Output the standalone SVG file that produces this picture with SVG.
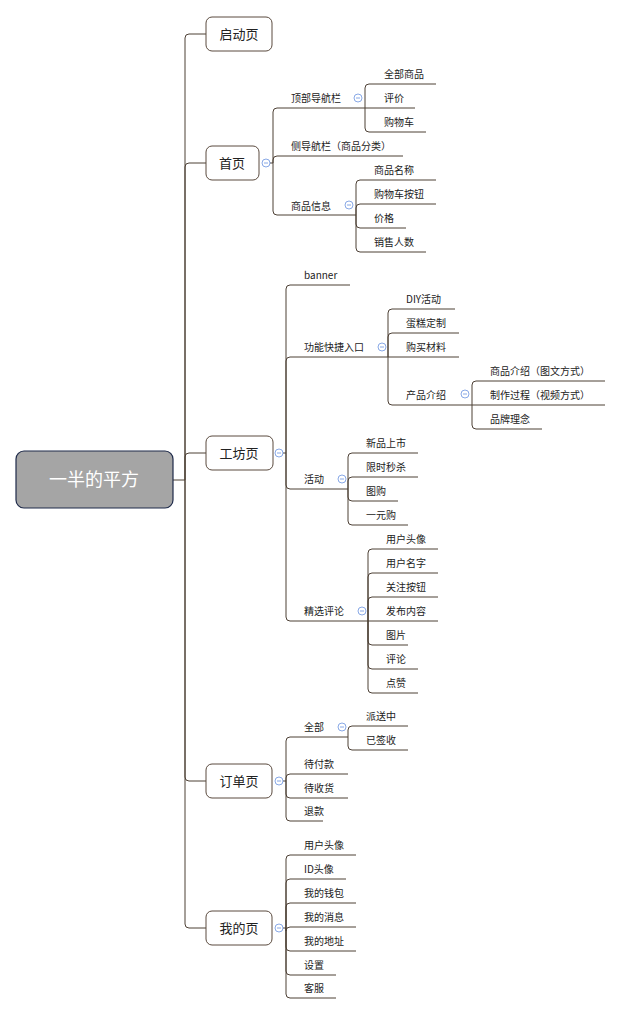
<svg xmlns="http://www.w3.org/2000/svg" width="618" height="1015" viewBox="0 0 618 1015">
<style>
text{font-family:"Noto Sans CJK SC","Liberation Sans",sans-serif;fill:#222}
.l{font-size:10px}
.n{font-size:13px;text-anchor:middle}
.node rect{fill:#fff;stroke:#5a4a3e;stroke-width:1}
.c path{fill:none;stroke:#4d4035;stroke-width:1}
.col{fill:#fff;stroke:#6b93e0;stroke-width:0.8}
.col line{stroke:#6b93e0}
</style>
<g id="connectors" class="c">
<path d="M173,480H185"/>
<path d="M185,480V38Q185,34 189,34H206"/>
<path d="M185,480V167Q185,163 189,163H206"/>
<path d="M185,480V457Q185,453 189,453H206"/>
<path d="M185,480V777Q185,781 189,781H206"/>
<path d="M185,480V924Q185,928 189,928H206"/>
<path d="M270,163H273"/>
<path d="M273,163V112Q273,108 277,108H365"/>
<path d="M273,163V160Q273,156 277,156H403"/>
<path d="M273,163V211Q273,215 277,215H356"/>
<path d="M365,108V88Q365,84 369,84H436"/>
<path d="M365,108H415"/>
<path d="M365,108V128Q365,132 369,132H426"/>
<path d="M356,215V184Q356,180 360,180H436"/>
<path d="M356,215V208Q356,204 360,204H436"/>
<path d="M356,215V224Q356,228 360,228H406"/>
<path d="M356,215V248Q356,252 360,252H426"/>
<path d="M283,453H286"/>
<path d="M286,453V289Q286,285 290,285H350"/>
<path d="M286,453V361Q286,357 290,357H388"/>
<path d="M286,453V485Q286,489 290,489H348"/>
<path d="M286,453V617Q286,621 290,621H368"/>
<path d="M388,357V313Q388,309 392,309H455"/>
<path d="M388,357V337Q388,333 392,333H459"/>
<path d="M388,357H459"/>
<path d="M388,357V401Q388,405 392,405H472"/>
<path d="M472,405V385Q472,381 476,381H605"/>
<path d="M472,405H605"/>
<path d="M472,405V425Q472,429 476,429H542"/>
<path d="M348,489V457Q348,453 352,453H418"/>
<path d="M348,489V481Q348,477 352,477H418"/>
<path d="M348,489V497Q348,501 352,501H398"/>
<path d="M348,489V521Q348,525 352,525H408"/>
<path d="M368,621V553Q368,549 372,549H438"/>
<path d="M368,621V577Q368,573 372,573H438"/>
<path d="M368,621V601Q368,597 372,597H438"/>
<path d="M368,621H438"/>
<path d="M368,621V641Q368,645 372,645H408"/>
<path d="M368,621V665Q368,669 372,669H418"/>
<path d="M368,621V689Q368,693 372,693H418"/>
<path d="M283,781H286"/>
<path d="M286,781V741Q286,737 290,737H348"/>
<path d="M286,781V778Q286,774 290,774H348"/>
<path d="M286,781V794Q286,798 290,798H348"/>
<path d="M286,781V817Q286,821 290,821H323"/>
<path d="M348,737V730Q348,726 352,726H408"/>
<path d="M348,737V746Q348,750 352,750H408"/>
<path d="M283,928H286"/>
<path d="M286,928V859Q286,855 290,855H356"/>
<path d="M286,928V883Q286,879 290,879H346"/>
<path d="M286,928V907Q286,903 290,903H356"/>
<path d="M286,928V931Q286,927 290,927H356"/>
<path d="M286,928V947Q286,951 290,951H356"/>
<path d="M286,928V971Q286,975 290,975H336"/>
<path d="M286,928V994Q286,998 290,998H336"/>
</g>
<g id="root"><rect x="16" y="451" width="157" height="57" rx="8" fill="#a5a5a5" stroke="#1e2a4a" stroke-width="1.2"/><text x="94" y="486" font-size="18" text-anchor="middle" style="fill:#fff">一半的平方</text></g>
<g id="n-qidong" class="node"><rect x="206" y="17" width="66" height="34" rx="6"/><text class="n" x="239" y="39">启动页</text></g>
<g id="n-shouye" class="node"><rect x="206" y="146" width="53" height="34" rx="6"/><text class="n" x="232" y="168">首页</text></g>
<g id="n-gongfang" class="node"><rect x="206" y="436" width="67" height="34" rx="6"/><text class="n" x="239" y="458">工坊页</text></g>
<g id="n-dingdan" class="node"><rect x="206" y="764" width="66" height="34" rx="6"/><text class="n" x="239" y="786">订单页</text></g>
<g id="n-wode" class="node"><rect x="206" y="911" width="66" height="34" rx="6"/><text class="n" x="239" y="933">我的页</text></g>
<g id="collapse">
<g class="col"><circle cx="266" cy="163" r="4"/><line x1="264" y1="163" x2="268" y2="163"/></g>
<g class="col"><circle cx="279" cy="453" r="4"/><line x1="277" y1="453" x2="281" y2="453"/></g>
<g class="col"><circle cx="279" cy="781" r="4"/><line x1="277" y1="781" x2="281" y2="781"/></g>
<g class="col"><circle cx="279" cy="928" r="4"/><line x1="277" y1="928" x2="281" y2="928"/></g>
<g class="col"><circle cx="358" cy="98" r="4"/><line x1="356" y1="98" x2="360" y2="98"/></g>
<g class="col"><circle cx="349" cy="205" r="4"/><line x1="347" y1="205" x2="351" y2="205"/></g>
<g class="col"><circle cx="382" cy="347" r="4"/><line x1="380" y1="347" x2="384" y2="347"/></g>
<g class="col"><circle cx="465" cy="394" r="4"/><line x1="463" y1="394" x2="467" y2="394"/></g>
<g class="col"><circle cx="342" cy="479" r="4"/><line x1="340" y1="479" x2="344" y2="479"/></g>
<g class="col"><circle cx="362" cy="611" r="4"/><line x1="360" y1="611" x2="364" y2="611"/></g>
<g class="col"><circle cx="342" cy="727" r="4"/><line x1="340" y1="727" x2="344" y2="727"/></g>
</g>
<g id="labels" class="l">
<text class="l" x="291" y="102">顶部导航栏</text>
<text class="l" x="291" y="150">侧导航栏（商品分类）</text>
<text class="l" x="291" y="210">商品信息</text>
<text class="l" x="384" y="78">全部商品</text>
<text class="l" x="384" y="102">评价</text>
<text class="l" x="384" y="126">购物车</text>
<text class="l" x="374" y="174">商品名称</text>
<text class="l" x="374" y="198">购物车按钮</text>
<text class="l" x="374" y="222">价格</text>
<text class="l" x="374" y="246">销售人数</text>
<text class="l" x="304" y="279">banner</text>
<text class="l" x="304" y="351">功能快捷入口</text>
<text class="l" x="304" y="483">活动</text>
<text class="l" x="304" y="615">精选评论</text>
<text class="l" x="406" y="303">DIY活动</text>
<text class="l" x="406" y="327">蛋糕定制</text>
<text class="l" x="406" y="351">购买材料</text>
<text class="l" x="406" y="399">产品介绍</text>
<text class="l" x="490" y="375">商品介绍（图文方式）</text>
<text class="l" x="490" y="399">制作过程（视频方式）</text>
<text class="l" x="490" y="423">品牌理念</text>
<text class="l" x="366" y="447">新品上市</text>
<text class="l" x="366" y="471">限时秒杀</text>
<text class="l" x="366" y="495">图购</text>
<text class="l" x="366" y="519">一元购</text>
<text class="l" x="386" y="543">用户头像</text>
<text class="l" x="386" y="567">用户名字</text>
<text class="l" x="386" y="591">关注按钮</text>
<text class="l" x="386" y="615">发布内容</text>
<text class="l" x="386" y="639">图片</text>
<text class="l" x="386" y="663">评论</text>
<text class="l" x="386" y="687">点赞</text>
<text class="l" x="304" y="731">全部</text>
<text class="l" x="304" y="768">待付款</text>
<text class="l" x="304" y="792">待收货</text>
<text class="l" x="304" y="815">退款</text>
<text class="l" x="366" y="720">派送中</text>
<text class="l" x="366" y="744">已签收</text>
<text class="l" x="304" y="849">用户头像</text>
<text class="l" x="304" y="873">ID头像</text>
<text class="l" x="304" y="897">我的钱包</text>
<text class="l" x="304" y="921">我的消息</text>
<text class="l" x="304" y="945">我的地址</text>
<text class="l" x="304" y="969">设置</text>
<text class="l" x="304" y="992">客服</text>
</g>
</svg>
